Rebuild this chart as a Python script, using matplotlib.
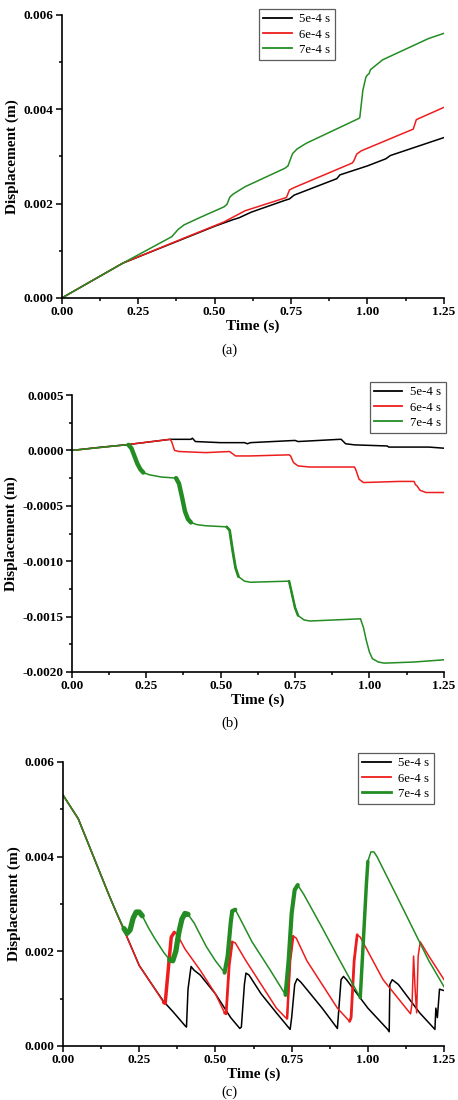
import numpy as np
import matplotlib
matplotlib.use('Agg')
import matplotlib.pyplot as plt
from matplotlib.ticker import MultipleLocator, FormatStrFormatter

plt.rcParams.update({
    'font.family': ['Liberation Serif', 'DejaVu Serif'],
    'font.size': 9.5,
})

labels = ['5e-4 s', '6e-4 s', '7e-4 s']
colors = ['black', '#ee1d1d', '#238c23']

# ---------------- (a) ----------------
t_a_black = [0, 0.2, 0.35, 0.5, 0.56, 0.58, 0.62, 0.73, 0.745, 0.76, 0.9, 0.91, 1.0, 1.06, 1.075, 1.25]
y_a_black = [0, 0.00074, 0.00113, 0.00152, 0.00166, 0.0017, 0.00182, 0.00207, 0.0021, 0.00218,
             0.00253, 0.00261, 0.0028, 0.00295, 0.00302, 0.0034]
t_a_red = [0, 0.2, 0.4, 0.53, 0.6, 0.73, 0.735, 0.745, 0.76, 0.95, 0.955, 0.965, 0.98,
           1.15, 1.155, 1.16, 1.17, 1.25]
y_a_red = [0, 0.00074, 0.00127, 0.00161, 0.00185, 0.00212, 0.00213, 0.00229, 0.00234, 0.00286,
           0.0029, 0.00305, 0.00312, 0.00358, 0.00368, 0.00378, 0.00381, 0.00404]
t_a_green = [0, 0.2, 0.36, 0.38, 0.4, 0.45, 0.53, 0.54, 0.55, 0.56, 0.6, 0.73, 0.74, 0.755, 0.77,
             0.8, 0.97, 0.975, 0.985, 0.995, 1.0, 1.005, 1.01, 1.05, 1.1, 1.2, 1.25]
y_a_green = [0, 0.00074, 0.0013, 0.00145, 0.00155, 0.0017, 0.00193, 0.00198, 0.00214, 0.0022,
             0.00236, 0.00275, 0.0028, 0.00306, 0.00316, 0.00328, 0.0038, 0.00382, 0.0044,
             0.00468, 0.00473, 0.00475, 0.00484, 0.00505, 0.0052, 0.0055, 0.00561]

# ---------------- (b) ----------------
t_b_black = [0, 0.1, 0.18, 0.33, 0.4, 0.405, 0.415, 0.5, 0.58, 0.59, 0.6, 0.75, 0.76, 0.9, 0.905,
             0.92, 0.95, 1.06, 1.065, 1.2, 1.25]
y_b_black = [0, 0.00003, 0.00005, 0.0001, 0.0001, 0.00011, 0.00008, 0.00007, 0.00007, 0.00006,
             0.00007, 0.00009, 0.00008, 0.0001, 0.0001, 0.00006, 0.00005, 0.00004, 0.00003,
             0.00003, 0.00002]
t_b_red = [0, 0.18, 0.33, 0.335, 0.345, 0.36, 0.45, 0.53, 0.535, 0.55, 0.6, 0.73, 0.735, 0.745,
           0.76, 0.8, 0.95, 0.955, 0.965, 0.98, 1.1, 1.15, 1.155, 1.16, 1.17, 1.19, 1.25]
y_b_red = [0, 0.00005, 0.0001, 0.00008, 0.0, -0.00001, -0.00002, -0.00001, -0.00002, -0.00005,
           -0.00005, -0.00004, -0.00005, -0.00011, -0.00014, -0.00015, -0.00015, -0.00018,
           -0.00026, -0.00029, -0.00028, -0.00028, -0.00031, -0.00032, -0.00036, -0.00038, -0.00038]
t_b_green = [0, 0.18, 0.19, 0.2, 0.21, 0.22, 0.23, 0.24, 0.26, 0.3, 0.35, 0.36, 0.37, 0.38, 0.39,
             0.4, 0.42, 0.45, 0.52, 0.53, 0.54, 0.55, 0.56, 0.58, 0.6, 0.73, 0.74, 0.75, 0.76,
             0.78, 0.8, 0.97, 0.98, 0.99, 1.0, 1.01, 1.03, 1.05, 1.15, 1.2, 1.25]
y_b_green = [0, 0.00005, 0.00005, 0.00002, -0.00005, -0.00012, -0.00017, -0.0002, -0.00022,
             -0.00024, -0.00025, -0.0003, -0.00042, -0.00055, -0.00062, -0.00065, -0.00067,
             -0.00068, -0.00069, -0.00072, -0.0009, -0.00106, -0.00114, -0.00118, -0.00119,
             -0.00118, -0.0013, -0.00142, -0.00149, -0.00153, -0.00154, -0.00152, -0.0016,
             -0.00172, -0.00182, -0.00188, -0.00191, -0.00192, -0.00191, -0.0019, -0.00189]

# ---------------- (c) ----------------
t_c_black = [0, 0.025, 0.05, 0.075, 0.1, 0.125, 0.15, 0.175, 0.2, 0.25, 0.3, 0.33, 0.36, 0.4,
             0.405, 0.41, 0.42, 0.43, 0.45, 0.5, 0.55, 0.58, 0.585, 0.595, 0.6, 0.61, 0.65, 0.7,
             0.745, 0.75, 0.76, 0.768, 0.78, 0.85, 0.9, 0.905, 0.912, 0.92, 0.93, 1.0, 1.065,
             1.07, 1.072, 1.08, 1.1, 1.17, 1.22, 1.223, 1.228, 1.235, 1.25]
y_c_black = [0.0053, 0.00505, 0.0048, 0.0044, 0.004, 0.0036, 0.0032, 0.00282, 0.00245, 0.0017,
             0.00122, 0.00094, 0.00073, 0.00043, 0.0004, 0.0012, 0.00168, 0.0016, 0.0015,
             0.0011, 0.0006, 0.00037, 0.0004, 0.0013, 0.00154, 0.0015, 0.0011, 0.0007, 0.00035,
             0.0006, 0.0013, 0.00142, 0.00135, 0.0008, 0.00037, 0.0008, 0.0014, 0.00147, 0.0014,
             0.0008, 0.00035, 0.0003, 0.0013, 0.0014, 0.0013, 0.0007, 0.00035, 0.0008, 0.0006,
             0.0012, 0.00117]
t_c_red = [0, 0.025, 0.05, 0.075, 0.1, 0.125, 0.15, 0.175, 0.2, 0.25, 0.3, 0.33, 0.335, 0.345,
           0.355, 0.365, 0.375, 0.4, 0.45, 0.5, 0.53, 0.535, 0.545, 0.555, 0.565, 0.6, 0.65, 0.7,
           0.73, 0.735, 0.745, 0.755, 0.765, 0.8, 0.85, 0.9, 0.94, 0.945, 0.955, 0.965, 0.975,
           1.05, 1.14, 1.145, 1.15, 1.155, 1.16, 1.165, 1.172, 1.2, 1.25]
y_c_red = [0.0053, 0.00505, 0.0048, 0.0044, 0.004, 0.0036, 0.0032, 0.00282, 0.00245, 0.0017,
           0.00122, 0.00092, 0.0009, 0.0016, 0.0023, 0.0024, 0.00235, 0.00205, 0.0016, 0.0011,
           0.0007, 0.00068, 0.0017, 0.0022, 0.00218, 0.0018, 0.0013, 0.0008, 0.0006, 0.00058,
           0.0018, 0.00232, 0.00228, 0.0018, 0.0013, 0.0008, 0.00052, 0.0006, 0.0018, 0.00235,
           0.0023, 0.0014, 0.00068, 0.0009, 0.0019, 0.0012, 0.0007, 0.0019, 0.0022, 0.0019, 0.0014]
t_c_green = [0, 0.025, 0.05, 0.075, 0.1, 0.125, 0.15, 0.175, 0.2, 0.21, 0.22, 0.23, 0.24, 0.25,
             0.26, 0.28, 0.3, 0.33, 0.35, 0.36, 0.37, 0.38, 0.39, 0.4, 0.41, 0.43, 0.47, 0.5,
             0.53, 0.54, 0.55, 0.555, 0.565, 0.58, 0.62, 0.68, 0.73, 0.74, 0.75, 0.76, 0.77,
             0.79, 0.85, 0.9, 0.975, 0.985, 0.995, 1.0, 1.01, 1.02, 1.03, 1.1, 1.2, 1.25]
y_c_green = [0.0053, 0.00505, 0.0048, 0.0044, 0.004, 0.0036, 0.0032, 0.00282, 0.00248, 0.00238,
             0.00245, 0.0027, 0.00283, 0.00283, 0.00275, 0.0025, 0.00228, 0.00198, 0.00182,
             0.0018, 0.002, 0.0024, 0.00268, 0.0028, 0.00278, 0.0026, 0.0021, 0.0018, 0.00155,
             0.0019, 0.0026, 0.00285, 0.00288, 0.0027, 0.0022, 0.0016, 0.00108, 0.0018, 0.0028,
             0.0033, 0.0034, 0.0032, 0.0025, 0.0019, 0.00102, 0.0022, 0.0034, 0.0039, 0.0041,
             0.0041, 0.004, 0.0031, 0.0018, 0.00125]

# time windows where the response oscillates fast (drawn as a thick band)
bands_b_green = [(0.19, 0.24, 3.2), (0.35, 0.4, 3.2), (0.52, 0.56, 2.0), (0.73, 0.76, 1.8)]
bands_c_green = [(0.2, 0.26, 3.8), (0.35, 0.41, 3.8), (0.53, 0.565, 3.0), (0.73, 0.77, 3.0),
                 (0.975, 1.0, 2.5)]
bands_c_red = [(0.33, 0.365, 2.5), (0.53, 0.555, 2.0), (0.735, 0.755, 1.8), (0.94, 0.965, 2.0)]

panels = [
    dict(pos=[0.135, 0.7291, 0.834, 0.2573],
         series=[(t_a_black, y_a_black), (t_a_red, y_a_red), (t_a_green, y_a_green)],
         bands=[[], [], []], ylim=(0, 0.006), ymaj=0.002, ymin=0.001, yfmt='%.3f',
         leg=(0.516, 1.021), cap='(a)', capy=0.6755),
    dict(pos=[0.157, 0.3891, 0.812, 0.2518],
         series=[(t_b_black, y_b_black), (t_b_red, y_b_red), (t_b_green, y_b_green)],
         bands=[[], [], bands_b_green], ylim=(-0.002, 0.0005), ymaj=0.0005, ymin=0.00025,
         yfmt='%.4f', leg=(0.801, 1.047), cap='(b)', capy=0.3364),
    dict(pos=[0.1376, 0.0491, 0.832, 0.2582],
         series=[(t_c_black, y_c_black), (t_c_red, y_c_red), (t_c_green, y_c_green)],
         bands=[[], bands_c_red, bands_c_green], ylim=(0, 0.006), ymaj=0.002, ymin=0.001,
         yfmt='%.3f', leg=(0.774, 1.032), cap='(c)', capy=0.001),
]

fig = plt.figure(figsize=(4.58, 11), dpi=100)

for i, p in enumerate(panels):
    ax = fig.add_axes(p['pos'])
    for (t, y), bands, c, lab in zip(p['series'], p['bands'], colors, labels):
        t = np.array(t)
        y = np.array(y)
        ax.plot(t, y, color=c, lw=1.1, label=lab)
        for t0, t1, lw in bands:
            m = (t >= t0 - 1e-9) & (t <= t1 + 1e-9)
            ax.plot(t[m], y[m], color=c, lw=lw, solid_capstyle='round')

    ax.set_xlim(0, 1.25)
    ax.set_ylim(*p['ylim'])
    ax.xaxis.set_major_locator(MultipleLocator(0.25))
    ax.xaxis.set_minor_locator(MultipleLocator(0.125))
    ax.yaxis.set_major_locator(MultipleLocator(p['ymaj']))
    ax.yaxis.set_minor_locator(MultipleLocator(p['ymin']))
    ax.xaxis.set_major_formatter(FormatStrFormatter('%.2f'))
    ax.yaxis.set_major_formatter(FormatStrFormatter(p['yfmt']))
    ax.tick_params(which='both', direction='out', width=1.1, labelsize=9.5)
    ax.tick_params(which='major', length=4, pad=2)
    ax.tick_params(which='minor', length=2.5)
    for lbl in ax.get_xticklabels() + ax.get_yticklabels():
        lbl.set_fontweight('bold')
    ax.spines['top'].set_visible(False)
    ax.spines['right'].set_visible(False)
    ax.spines['left'].set_linewidth(1.2)
    ax.spines['bottom'].set_linewidth(1.2)

    ax.set_xlabel('Time (s)', fontsize=11, fontweight='bold', labelpad=1)
    ax.set_ylabel('Displacement (m)', fontsize=11, fontweight='bold', labelpad=3)

    leg = ax.legend(loc='upper left', bbox_to_anchor=p['leg'], fontsize=9.2, frameon=True,
                    fancybox=False, edgecolor='#333333', handlelength=2.2,
                    borderpad=0.35, labelspacing=0.25, handletextpad=0.6, borderaxespad=0)
    leg.get_frame().set_linewidth(0.9)
    for h in leg.get_lines():
        h.set_linewidth(1.3)
    if i == 2:
        leg.get_lines()[2].set_linewidth(2.0)

    fig.text(0.502, p['capy'], p['cap'], ha='center', va='bottom', fontsize=10.5)

plt.savefig('out.png', dpi=100)
